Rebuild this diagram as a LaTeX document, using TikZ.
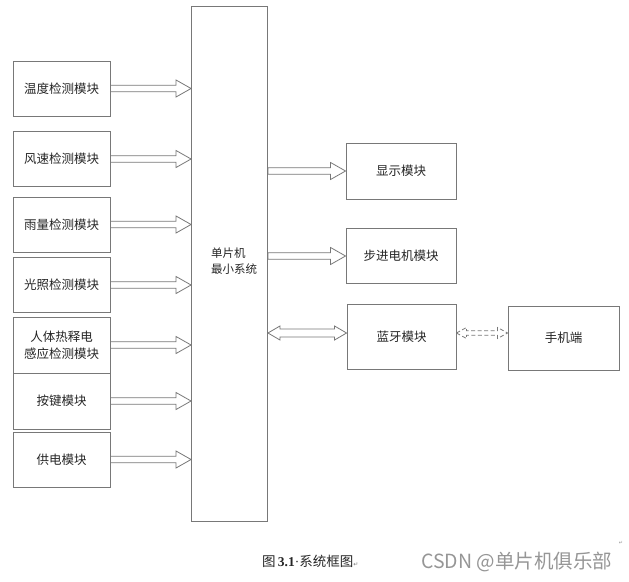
\documentclass[tikz,border=0pt]{standalone}
\usepackage{fontspec}
\setmainfont{Noto Sans CJK SC}
\newfontfamily\serifnum{Liberation Serif}
\newfontfamily\symfont{DejaVu Sans}
\usetikzlibrary{calc}
\definecolor{lc}{RGB}{120,120,120}
\definecolor{wm}{RGB}{150,150,150}
\tikzset{
  box/.style={draw=lc, line width=0.9pt, minimum width=97pt, minimum height=55pt, inner sep=2pt, align=center, font=\fontsize{12.5}{17}\selectfont, text=black!85},
  conn/.style={draw=lc, line width=0.8pt},
}
% single-headed hollow arrow: from, to (named coordinates)
\newcommand\sarrow[2]{\draw[conn] let \p1=(#1),\p2=(#2) in
  (\x1,\y1+3.3pt) -- (\x2-15pt,\y1+3.3pt) -- (\x2-15pt,\y1+8.5pt) -- (\x2,\y1)
  -- (\x2-15pt,\y1-8.5pt) -- (\x2-15pt,\y1-3.3pt) -- (\x1,\y1-3.3pt) -- cycle;}
% double-headed hollow arrow: from, to, shaft half, head half, head length, style
\newcommand\darrow[6]{\draw[conn,#6] let \p1=(#1),\p2=(#2) in
  (\x1,\y1) -- (\x1+#5,\y1+#4) -- (\x1+#5,\y1+#3) -- (\x2-#5,\y1+#3) -- (\x2-#5,\y1+#4)
  -- (\x2,\y1) -- (\x2-#5,\y1-#4) -- (\x2-#5,\y1-#3) -- (\x1+#5,\y1-#3) -- (\x1+#5,\y1-#4) -- cycle;}
\begin{document}
\begin{tikzpicture}[x=1pt,y=-1pt]
\useasboundingbox[fill=white] (0,0) rectangle (629,581);
% main system
\node[box, minimum width=76pt, minimum height=515pt] (mcu) at (229.5,263.5) {};
\node[align=left, inner sep=0pt, font=\fontsize{11.5}{16.5}\selectfont, text=black!85] (mcutxt) at (234,261) {单片机\\最小系统};
% left modules
\node[box] (wd) at (61.5,88.5) {温度检测模块};
\node[box] (fs) at (61.5,159) {风速检测模块};
\node[box] (yl) at (61.5,224.5) {雨量检测模块};
\node[box] (gz) at (61.5,285) {光照检测模块};
\node[box, minimum height=56pt] (rt) at (61.5,345) {人体热释电\\感应检测模块};
\node[box, minimum height=56pt] (aj) at (61.5,401) {按键模块};
\node[box] (gd) at (61.5,459.5) {供电模块};
% right modules
\node[box, minimum width=110pt, minimum height=56pt] (xs) at (401,171) {显示模块};
\node[box, minimum width=110pt, minimum height=55pt] (bj) at (401,256) {步进电机模块};
\node[box, minimum width=109pt, minimum height=65pt] (ly) at (401.5,336.5) {蓝牙模块};
\node[box, minimum width=111pt, minimum height=64pt] (sj) at (563.5,338) {手机端};
% target coordinates on MCU
\coordinate (twd) at (wd.east -| mcu.west);
\coordinate (tfs) at (fs.east -| mcu.west);
\coordinate (tyl) at (yl.east -| mcu.west);
\coordinate (tgz) at (gz.east -| mcu.west);
\coordinate (trt) at (rt.east -| mcu.west);
\coordinate (taj) at (aj.east -| mcu.west);
\coordinate (tgd) at (gd.east -| mcu.west);
\coordinate (sxs) at (xs.west -| mcu.east);
\coordinate (sbj) at (bj.west -| mcu.east);
\coordinate (lyw) at ([yshift=3.5pt]ly.west);
\coordinate (lye) at ([yshift=3.5pt]ly.east);
\coordinate (mly) at (lyw -| mcu.east);
\coordinate (sjw) at (lye -| sj.west);
% arrows into MCU
\sarrow{wd.east}{twd}
\sarrow{fs.east}{tfs}
\sarrow{yl.east}{tyl}
\sarrow{gz.east}{tgz}
\sarrow{rt.east}{trt}
\sarrow{aj.east}{taj}
\sarrow{gd.east}{tgd}
% arrows out of MCU
\sarrow{sxs}{xs.west}
\sarrow{sbj}{bj.west}
% bidirectional
\darrow{mly}{lyw}{4pt}{7pt}{12pt}{}
\darrow{lye}{sjw}{2.2pt}{5.5pt}{10pt}{dashed, dash pattern=on 4pt off 2.5pt}
% caption
\node[anchor=west, inner sep=0pt, font=\fontsize{13.5}{15}\selectfont, text=black!85] (cap) at (262,561) {图\,{\serifnum\bfseries 3.1}{\serifnum ·}系统框图{\symfont\fontsize{6}{6}\selectfont\color{lc}↵}};
\node[anchor=west, inner sep=0pt, font=\fontsize{19.5}{21}\selectfont, text=wm] (wmk) at (421,562) {CSDN @单片机俱乐部};
\node[inner sep=0pt, font=\fontsize{5}{5}\selectfont, text=wm] (pm) at (621,543) {\symfont ↵};
\end{tikzpicture}
\end{document}
